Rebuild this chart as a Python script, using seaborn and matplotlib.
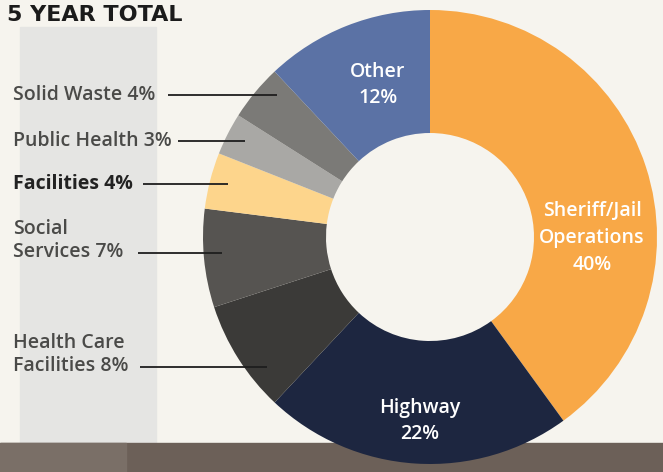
import matplotlib
matplotlib.use("Agg")
from matplotlib import pyplot as plt
from matplotlib.patches import Rectangle
import seaborn as sns
import numpy as np

# slices, clockwise from 12 o'clock
labels = ["Sheriff/Jail\nOperations", "Highway", "Health Care\nFacilities",
          "Social\nServices", "Facilities", "Public Health", "Solid Waste", "Other"]
values = [40, 22, 8, 7, 4, 3, 4, 12]
palette = ["#f8a847", "#1d2640", "#3b3a38", "#565451", "#fdd58c",
           "#a9a8a5", "#7b7a77", "#5b72a5"]

inside = ["Sheriff/Jail\nOperations", "Highway", "Other"]
inside_xy = {"Sheriff/Jail\nOperations": (592, 238), "Highway": (420, 421), "Other": (378, 85)}
outside_y = {"Solid Waste": 95, "Public Health": 141, "Facilities": 184,
             "Social\nServices": 253, "Health Care\nFacilities": 367}
outside_x0 = {"Solid Waste": 168, "Public Health": 178, "Facilities": 143,
              "Social\nServices": 138, "Health Care\nFacilities": 140}

W, H = 663, 472
CX, CY, R, R_IN = 430, 237, 227, 104


def py(y):
    return H - y


def main():
    sns.set_theme(style="white")
    plt.rcParams["font.family"] = ["Open Sans", "DejaVu Sans"]

    fig = plt.figure(figsize=(W / 100, H / 100), dpi=100, facecolor="#f6f4ee")
    ax = fig.add_axes([0, 0, 1, 1])
    ax.set_facecolor("#f6f4ee")

    # background panels
    ax.add_patch(Rectangle((20, py(443)), 136, 443 - 27, color="#e5e5e3", zorder=0))
    ax.add_patch(Rectangle((0, 0), W, H - 443, color="#6c6058", zorder=0))
    ax.add_patch(Rectangle((0, 0), 126, H - 443, color="#7a6f67", zorder=0))

    wedges, _ = ax.pie(values, colors=palette, startangle=90, counterclock=False,
                       center=(CX, py(CY)), radius=R,
                       wedgeprops=dict(width=R - R_IN, linewidth=0))
    for w in wedges:
        w.set_zorder(2)

    for lab in inside:
        i = labels.index(lab)
        x, y = inside_xy[lab]
        ax.text(x, py(y), f"{lab}\n{values[i]}%", color="white", ha="center",
                va="center", fontsize=14, fontweight="semibold",
                linespacing=1.45, zorder=3)

    for lab, y in outside_y.items():
        i = labels.index(lab)
        dark = lab == "Facilities"
        n_lines = lab.count("\n") + 1
        ax.text(13, py(y) + (n_lines - 1) * 12.5, f"{lab} {values[i]}%",
                ha="left", va="center", fontsize=14,
                fontweight="bold" if dark else "semibold",
                color="#222222" if dark else "#4a4a48", linespacing=1.25, zorder=3)
        dy = CY - y
        x_end = CX - np.sqrt((0.92 * R) ** 2 - dy ** 2)
        ax.plot([outside_x0[lab], x_end], [py(y), py(y)], color="#1e1e1e",
                lw=1.3, zorder=4, solid_capstyle="butt")

    ax.text(7, py(21), "5 YEAR TOTAL", ha="left", va="baseline", fontsize=16,
            fontweight="bold", color="#1b1b1b", family=["DejaVu Sans"], zorder=3)

    ax.set_xlim(0, W)
    ax.set_ylim(0, H)
    ax.set_aspect("auto")
    ax.axis("off")
    fig.savefig("out.png", dpi=100, facecolor=fig.get_facecolor())


if __name__ == "__main__":
    main()
